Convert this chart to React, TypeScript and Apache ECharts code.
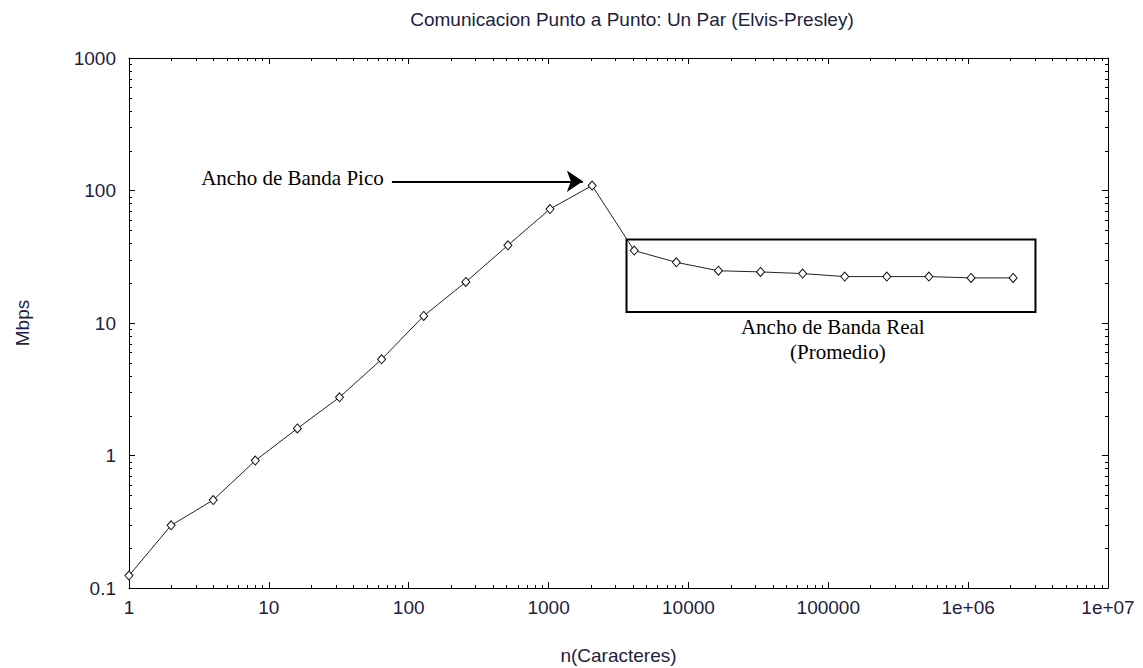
import React, { useEffect, useRef } from "react";
import * as echarts from "echarts";

// Message size in characters (powers of two) and measured bandwidth in Mbps
const sizes = [
  1, 2, 4, 8, 16, 32, 64, 128, 256, 512, 1024, 2048, 4096, 8192, 16384, 32768,
  65536, 131072, 262144, 524288, 1048576, 2097152,
];
const mbps = [
  0.124, 0.297, 0.461, 0.915, 1.6, 2.75, 5.32, 11.3, 20.4, 38.6, 72.5, 109,
  35.2, 28.7, 24.8, 24.3, 23.6, 22.4, 22.4, 22.4, 21.9, 21.9,
];

const xTickLabels = ["1", "10", "100", "1000", "10000", "100000", "1e+06", "1e+07"];
const yTickLabels = ["0.1", "1", "10", "100", "1000"];

// Annotations (data coordinates)
const peakArrowFrom = [75.8, 117.4];
const peakArrowTo = [1758, 117.4];
const peakLabelAt = [14.75, 124];
const realBoxTopLeft = [3608, 42.6];
const realBoxBottomRight = [3.03e6, 12.1];
const realLabelAt = [107700, 9.28];
const avgLabelAt = [117000, 6.0];

const textColor = "#1e1e40";
const sans = "'Liberation Sans', Arial, sans-serif";
const serif = "'Liberation Serif', 'Times New Roman', serif";

// Logarithmic minor tick positions (2..9 within each decade)
const minorTicks = (fromExp: number, toExp: number) => {
  const out: number[] = [];
  for (let e = fromExp; e < toExp; e++) {
    for (let k = 2; k <= 9; k++) out.push(k * Math.pow(10, e));
  }
  return out;
};
const xMinor = minorTicks(0, 7);
const yMinor = minorTicks(-1, 3);

const MINOR_LEN = 3;

export default function App() {
  const ref = useRef<HTMLDivElement>(null);

  useEffect(() => {
    if (!ref.current) return;
    const chart = echarts.init(ref.current, null, { renderer: "svg" });

    const axisBase = {
      type: "log" as const,
      logBase: 10,
      axisLine: { show: true, onZero: false, lineStyle: { color: "#000", width: 1 } },
      axisTick: { show: true, inside: true, length: 6, lineStyle: { color: "#000", width: 1 } },
      splitLine: { show: false },
      minorTick: { show: false },
      minorSplitLine: { show: false },
    };

    const labelStyle = {
      color: textColor,
      fontFamily: sans,
      fontSize: 19,
    };

    chart.setOption({
      animation: false,
      backgroundColor: "#fff",
      title: {
        text: "Comunicacion Punto a Punto: Un Par (Elvis-Presley)",
        left: 627,
        top: 5,
        textAlign: "center",
        textStyle: { color: textColor, fontFamily: sans, fontSize: 19, fontWeight: "normal" },
      },
      grid: {
        left: 129,
        right: 35,
        top: 58,
        bottom: 80,
        containLabel: false,
        outerBoundsMode: "none",
        show: false,
      },
      xAxis: [
        {
          ...axisBase,
          position: "bottom",
          min: 1,
          max: 1e7,
          name: "n(Caracteres)",
          nameLocation: "middle",
          nameGap: 58,
          nameTextStyle: { ...labelStyle },
          axisLabel: {
            ...labelStyle,
            margin: 10,
            formatter: (v: number) => xTickLabels[Math.round(Math.log10(v))] ?? "",
          },
        },
        {
          ...axisBase,
          position: "top",
          min: 1,
          max: 1e7,
          axisLabel: { show: false },
        },
      ],
      yAxis: [
        {
          ...axisBase,
          position: "left",
          min: 0.1,
          max: 1000,
          name: "Mbps",
          nameLocation: "middle",
          nameGap: 97,
          nameTextStyle: { ...labelStyle },
          axisLabel: {
            ...labelStyle,
            margin: 13,
            formatter: (v: number) => yTickLabels[Math.round(Math.log10(v)) + 1] ?? "",
          },
        },
        {
          ...axisBase,
          position: "right",
          min: 0.1,
          max: 1000,
          axisLabel: { show: false },
        },
      ],
      series: [
        {
          type: "line",
          name: "Mbps",
          data: sizes.map((s, i) => [s, mbps[i]]),
          symbol: "diamond",
          symbolSize: [8, 9],
          showSymbol: true,
          lineStyle: { color: "#222", width: 1 },
          itemStyle: { color: "#fff", borderColor: "#111", borderWidth: 1 },
          markLine: {
            silent: true,
            symbol: ["none", "arrow"],
            symbolSize: 16,
            label: { show: false },
            lineStyle: { color: "#000", width: 2, type: "solid" },
            data: [[{ coord: peakArrowFrom }, { coord: peakArrowTo }]],
          },
          markArea: {
            silent: true,
            label: { show: false },
            itemStyle: { color: "rgba(0,0,0,0)", borderColor: "#000", borderWidth: 2 },
            data: [[{ coord: realBoxTopLeft }, { coord: realBoxBottomRight }]],
          },
          markPoint: {
            silent: true,
            symbol: "circle",
            symbolSize: 0,
            label: {
              show: true,
              position: "inside",
              color: "#000",
              fontFamily: serif,
              fontSize: 21,
            },
            data: [
              { coord: peakLabelAt, label: { formatter: "Ancho de Banda Pico" } },
              { coord: realLabelAt, label: { formatter: "Ancho de Banda Real" } },
              { coord: avgLabelAt, label: { formatter: "(Promedio)" } },
            ],
          },
        },
      ],
    });

    // Minor ticks on all four sides, placed through the axes' own log scales
    const top = chart.convertToPixel({ yAxisIndex: 0 }, 1000) as number;
    const bottom = chart.convertToPixel({ yAxisIndex: 0 }, 0.1) as number;
    const left = chart.convertToPixel({ xAxisIndex: 0 }, 1) as number;
    const right = chart.convertToPixel({ xAxisIndex: 0 }, 1e7) as number;
    const tickStyle = { stroke: "#000", lineWidth: 1 };
    const marks: any[] = [];
    xMinor.forEach((v) => {
      const px = Math.round(chart.convertToPixel({ xAxisIndex: 0 }, v) as number) + 0.5;
      marks.push({ type: "line", silent: true, shape: { x1: px, y1: bottom, x2: px, y2: bottom - MINOR_LEN }, style: tickStyle });
      marks.push({ type: "line", silent: true, shape: { x1: px, y1: top, x2: px, y2: top + MINOR_LEN }, style: tickStyle });
    });
    yMinor.forEach((v) => {
      const py = Math.round(chart.convertToPixel({ yAxisIndex: 0 }, v) as number) + 0.5;
      marks.push({ type: "line", silent: true, shape: { x1: left, y1: py, x2: left + MINOR_LEN, y2: py }, style: tickStyle });
      marks.push({ type: "line", silent: true, shape: { x1: right, y1: py, x2: right - MINOR_LEN, y2: py }, style: tickStyle });
    });
    chart.setOption({ graphic: marks });

    return () => chart.dispose();
  }, []);

  return (
    <div
      ref={ref}
      style={{ position: "fixed", left: 0, top: 0, width: 1143, height: 668, background: "#fff" }}
    />
  );
}
